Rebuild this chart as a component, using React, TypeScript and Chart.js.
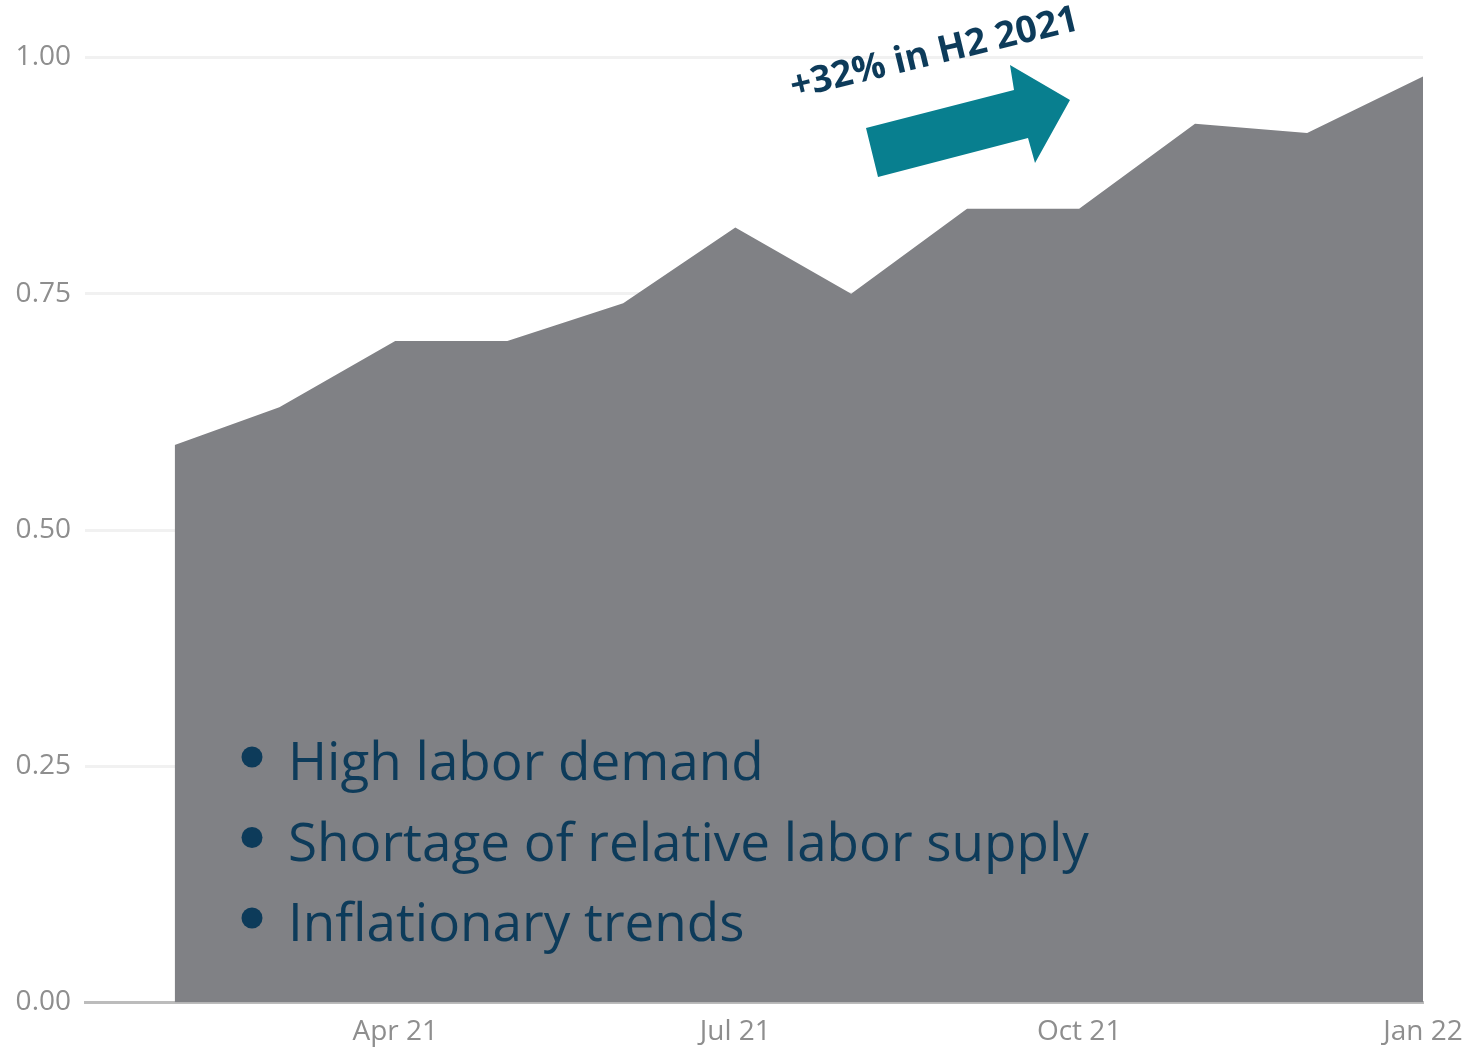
import React, { useEffect, useRef } from "react";
import { Chart, registerables } from "chart.js";

Chart.register(...registerables);

// Monthly index readings (first of each month)
const monthDates = [
  "2021-02-01", "2021-03-01", "2021-04-01", "2021-05-01", "2021-06-01", "2021-07-01",
  "2021-08-01", "2021-09-01", "2021-10-01", "2021-11-01", "2021-12-01", "2022-01-01",
];
const indexValues = [0.59, 0.63, 0.70, 0.70, 0.74, 0.82, 0.75, 0.84, 0.84, 0.93, 0.92, 0.98];

// Labelled x ticks
const tickDates = ["2021-04-01", "2021-07-01", "2021-10-01", "2022-01-01"];
const tickLabels = ["Apr 21", "Jul 21", "Oct 21", "Jan 22"];
const axisStartDate = "2021-01-08";

// Callout texts
const growthCallout = "+32% in H2 2021";
const driverBullets = ["High labor demand", "Shortage of relative labor supply", "Inflationary trends"];

const EPOCH = Date.UTC(2021, 0, 1);
const dayIndex = (iso: string) => {
  const [y, m, d] = iso.split("-").map(Number);
  return Math.round((Date.UTC(y, m - 1, d) - EPOCH) / 86400000);
};

const NAVY = "#0d3b5a";
const TEAL = "#087f8f";
const AREA = "#808185";
const TICK = "#8e8e8e";

const calloutPlugin = {
  id: "callouts",
  afterDraw(chart: Chart) {
    const ctx = chart.ctx;
    ctx.save();

    // teal arrow pointing up-right
    const arrow = [
      [866, 128], [1014, 90], [1010, 65], [1070, 100], [1035, 163], [1028, 138], [878, 177],
    ];
    ctx.fillStyle = TEAL;
    ctx.beginPath();
    arrow.forEach(([x, y], i) => {
      if (i === 0) ctx.moveTo(x, y);
      else ctx.lineTo(x, y);
    });
    ctx.closePath();
    ctx.fill();

    // rotated growth callout
    ctx.save();
    ctx.translate(937, 64);
    ctx.rotate((-13.5 * Math.PI) / 180);
    ctx.fillStyle = NAVY;
    ctx.font = "bold 37px 'Open Sans'";
    ctx.textAlign = "center";
    ctx.textBaseline = "alphabetic";
    ctx.fillText(growthCallout, 0, 0);
    ctx.restore();

    // bullet list
    ctx.font = "53px 'Open Sans'";
    ctx.textAlign = "left";
    ctx.textBaseline = "alphabetic";
    ctx.fillStyle = NAVY;
    driverBullets.forEach((text, i) => {
      const baseY = 780 + i * 80.5;
      ctx.beginPath();
      ctx.arc(252, baseY - 23, 10.5, 0, Math.PI * 2);
      ctx.fill();
      ctx.fillText(text, 288, baseY);
    });

    ctx.restore();
  },
};

export default function App() {
  const canvasRef = useRef<HTMLCanvasElement | null>(null);

  useEffect(() => {
    document.body.style.margin = "0";
    const canvas = canvasRef.current;
    if (!canvas) return;
    const points = monthDates.map((d, i) => ({ x: dayIndex(d), y: indexValues[i] }));
    const tickDays = tickDates.map(dayIndex);

    const chart = new Chart(canvas, {
      type: "line",
      data: {
        datasets: [
          {
            data: points,
            fill: "origin",
            backgroundColor: AREA,
            borderWidth: 0,
            borderColor: AREA,
            pointRadius: 0,
            tension: 0,
          },
        ],
      },
      options: {
        responsive: false,
        animation: false,
        events: [],
        layout: { padding: { top: 57.5, right: 46, bottom: 0, left: 0 } },
        plugins: { legend: { display: false }, tooltip: { enabled: false } },
        scales: {
          x: {
            type: "linear",
            min: dayIndex(axisStartDate),
            max: dayIndex("2022-01-01"),
            grid: { display: false, drawTicks: false },
            border: { display: true, color: "#bcbcbc", width: 3, z: -1 },
            afterBuildTicks(axis: any) {
              axis.ticks = tickDays.map((v) => ({ value: v }));
            },
            afterFit(axis: any) {
              axis.height = 45.5;
              axis.paddingLeft = 0;
              axis.paddingRight = 0;
            },
            ticks: {
              autoSkip: false,
              maxRotation: 0,
              padding: 13,
              color: TICK,
              font: { family: "'Open Sans'", size: 28 },
              callback(value: any) {
                const i = tickDays.indexOf(Number(value));
                return i >= 0 ? tickLabels[i] : "";
              },
            },
          },
          y: {
            min: 0,
            max: 1,
            grid: {
              color: (c: any) => (c.tick && c.tick.value === 0 ? "rgba(0,0,0,0)" : "#f1f1f1"),
              lineWidth: 3,
              drawTicks: false,
            },
            border: { display: false },
            afterFit(axis: any) {
              axis.width = 85;
            },
            ticks: {
              stepSize: 0.25,
              padding: 14,
              color: TICK,
              font: { family: "'Open Sans'", size: 28 },
              callback(value: any) {
                return Number(value).toFixed(2);
              },
            },
          },
        },
      },
      plugins: [calloutPlugin],
    });
    return () => chart.destroy();
  }, []);

  return (
    <div style={{ position: "absolute", left: 0, top: 0, width: 1469, height: 1048, background: "#fff" }}>
      <canvas ref={canvasRef} width={1469} height={1048} style={{ display: "block" }} />
    </div>
  );
}
